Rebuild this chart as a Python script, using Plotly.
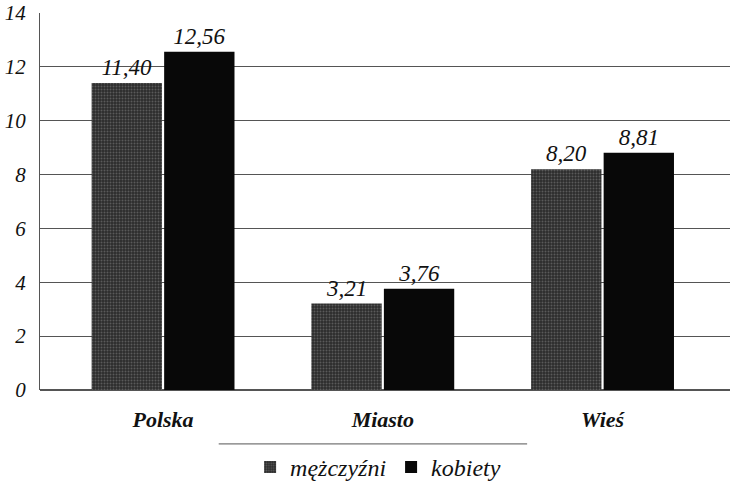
import plotly.graph_objects as go

categories = ["Polska", "Miasto", "Wieś"]
men = [11.40, 3.21, 8.20]
women = [12.56, 3.76, 8.81]
y_ticks = [0, 2, 4, 6, 8, 10, 12, 14]
series_names = ["mężczyźni", "kobiety"]

FONT = "Liberation Serif"

def fmt(v):
    return f"{v:.2f}".replace(".", ",")

cat_labels = [f"<b><i>{c}</i></b>" for c in categories]

fig = go.Figure()
fig.add_trace(go.Bar(
    x=cat_labels, y=men, name=f"<i>{series_names[0]}</i>",
    marker=dict(color="#2c2c2c", line=dict(width=0),
                pattern=dict(shape=".", fgcolor="#5a5a5a", bgcolor="#2c2c2c",
                             size=3, solidity=0.35, fillmode="replace")),
    text=[f"<i>{fmt(v)}</i>" for v in men], textposition="outside",
    textfont=dict(family=FONT, size=23, color="#111"),
    cliponaxis=False,
))
fig.add_trace(go.Bar(
    x=cat_labels, y=women, name=f"<i>{series_names[1]}</i>",
    marker=dict(color="#080808", line=dict(width=0)),
    text=[f"<i>{fmt(v)}</i>" for v in women], textposition="outside",
    textfont=dict(family=FONT, size=23, color="#111"),
    cliponaxis=False,
))

fig.update_layout(
    template="none",
    width=730, height=484,
    margin=dict(l=40, r=0, t=13, b=94, autoexpand=False),
    paper_bgcolor="white", plot_bgcolor="white",
    barmode="group", bargap=0.34, bargroupgap=0.03,
    font=dict(family=FONT, size=20, color="#111"),
    showlegend=True,
    legend=dict(orientation="h", x=0.49, xanchor="center", y=-0.205, yanchor="middle",
                bgcolor="rgba(0,0,0,0)",
                font=dict(family=FONT, size=24, color="#111"),
                itemwidth=30, traceorder="normal"),
)
fig.update_xaxes(
    range=[-0.56, 2.58], showgrid=False, showline=False, zeroline=False,
    ticks="", ticklabelstandoff=14,
    tickfont=dict(family=FONT, size=22, color="#111"),
)
fig.update_yaxes(
    range=[0, 14], tickvals=y_ticks, ticktext=[f"<i>{t}</i>" for t in y_ticks],
    showgrid=True, gridcolor="#555", gridwidth=1,
    showline=True, linecolor="#555", linewidth=1, mirror=False,
    zeroline=True, zerolinecolor="#555", zerolinewidth=1.5,
    ticks="", ticklabelstandoff=9,
    tickfont=dict(family=FONT, size=21, color="#111"),
)
fig.add_shape(type="line", xref="paper", yref="paper",
              x0=0.259, x1=0.706, y0=-0.143, y1=-0.143,
              line=dict(color="#555", width=1))

fig.write_html("out.html")
